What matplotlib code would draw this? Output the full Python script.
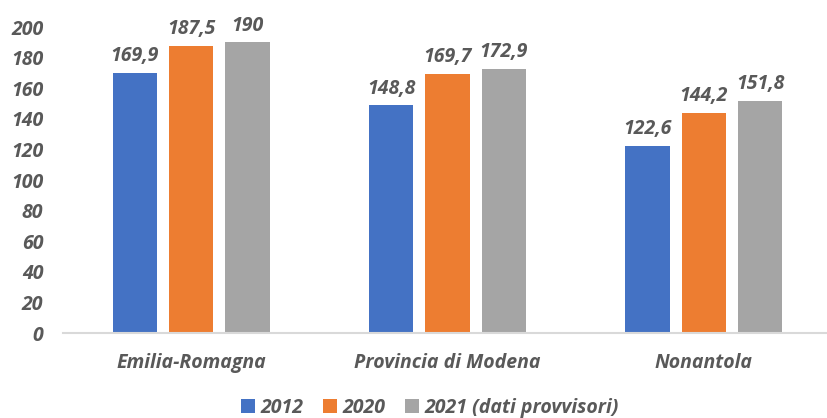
import numpy as np
import matplotlib
matplotlib.use("Agg")
import matplotlib.pyplot as plt

categories = ["Emilia-Romagna", "Provincia di Modena", "Nonantola"]
series_names = ["2012", "2020", "2021 (dati provvisori)"]
v2012 = [169.9, 148.8, 122.6]
v2020 = [187.5, 169.7, 144.2]
v2021 = [190, 172.9, 151.8]
yticks = [0, 20, 40, 60, 80, 100, 120, 140, 160, 180, 200]

colors = ["#4472C4", "#ED7D31", "#A5A5A5"]
txt = "#595959"
plt.rcParams['font.family'] = ['Open Sans', 'DejaVu Sans']
fs = 14

fig = plt.figure(figsize=(8.27, 4.18), dpi=100)
ax = fig.add_axes([0.076, 0.203, 0.924, 0.732])

x = np.arange(len(categories))
w = 0.172
pitch = 0.22
for i, (vals, name) in enumerate(zip([v2012, v2020, v2021], series_names)):
    bars = ax.bar(x + (i - 1) * pitch, vals, w, color=colors[i], label=name, zorder=2)
    for b, v in zip(bars, vals):
        lab = ("%g" % v).replace(".", ",")
        ax.annotate(lab, (b.get_x() + b.get_width() / 2, v), xytext=(0, 5),
                    textcoords="offset points", ha="center", va="bottom",
                    fontsize=fs, fontweight="bold", fontstyle="italic", color=txt)

ax.set_xlim(-0.5, 2.5 - 0.02)
ax.set_ylim(0, 200)
ax.set_yticks(yticks)
ax.set_xticks(x)
ax.set_xticklabels(categories)
for s in ["top", "right", "left"]:
    ax.spines[s].set_visible(False)
ax.spines["bottom"].set_color("#D9D9D9")
ax.spines["bottom"].set_linewidth(1.5)
ax.tick_params(axis="both", length=0, labelsize=fs, labelcolor=txt)
ax.tick_params(axis="x", pad=14)
ax.tick_params(axis="y", pad=14)
for t in ax.get_xticklabels() + ax.get_yticklabels():
    t.set_fontweight("bold")
    t.set_fontstyle("italic")

leg = fig.legend(loc="center", bbox_to_anchor=(0.52, 0.025), ncol=3, frameon=False,
                 handlelength=0.7, handleheight=0.7, handletextpad=0.3, columnspacing=1.0,
                 prop={"size": fs, "weight": "bold", "style": "italic"})
for t in leg.get_texts():
    t.set_color(txt)

fig.savefig("out.png", dpi=100)
